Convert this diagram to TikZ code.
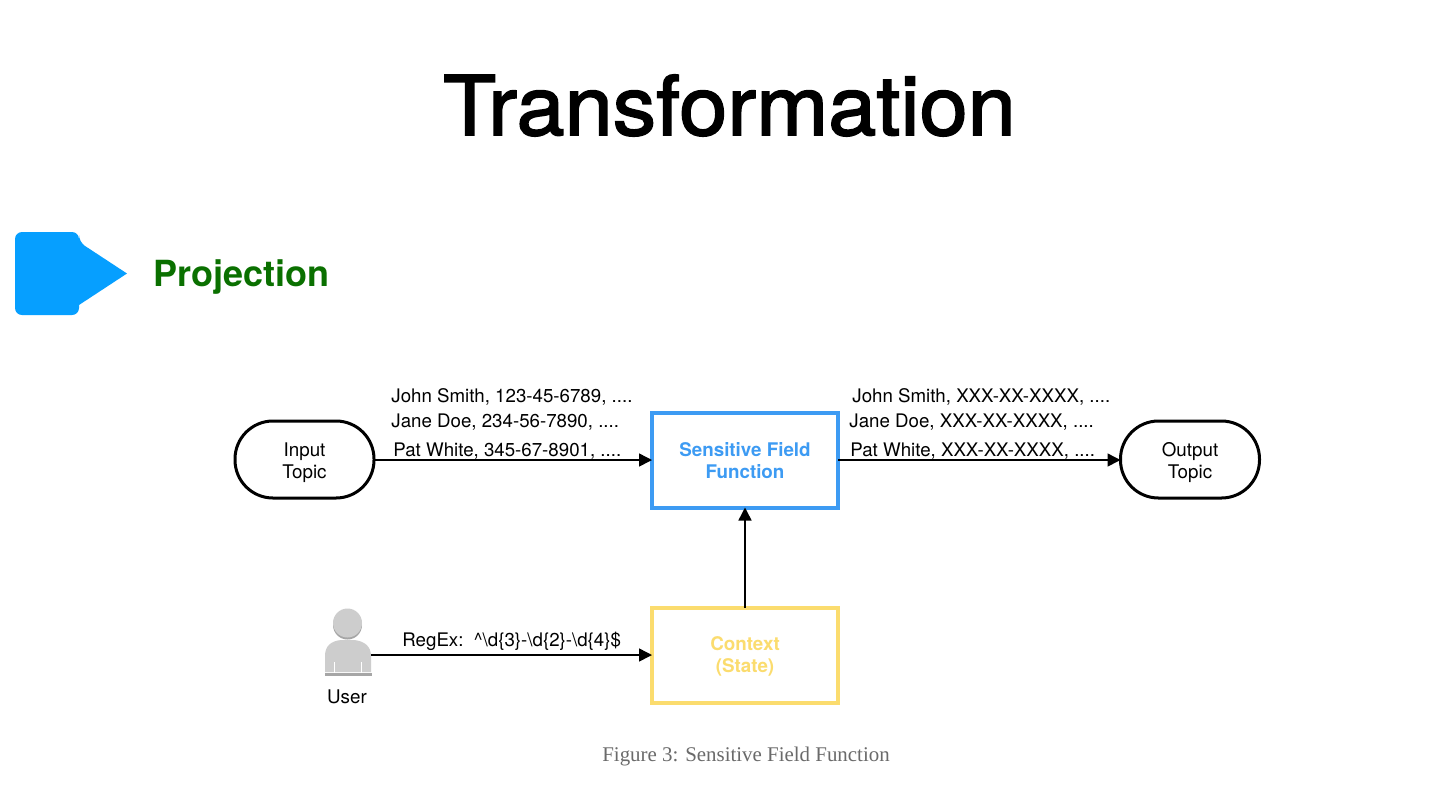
\documentclass[tikz,border=0pt]{standalone}
\usepackage{fontspec}
\setmainfont{TeX Gyre Heros}
\newfontfamily\capfont{Liberation Serif}
\newfontfamily\titlefont[FakeBold=2,FakeStretch=1.05]{TeX Gyre Heros}
\usetikzlibrary{arrows.meta,calc}
\definecolor{bluefn}{HTML}{3D9BF3}
\definecolor{yellowfn}{HTML}{FBDC6E}
\definecolor{greenp}{HTML}{0A7000}
\definecolor{bluep}{HTML}{069FFF}
\definecolor{usergray}{HTML}{CDCDCD}
\definecolor{usershade}{HTML}{A6A6A6}
\definecolor{capgray}{HTML}{6A6A6A}
\newcommand\lowr[1]{\rule{0pt}{#1}}
\tikzset{
  x=0.5pt,y=-0.5pt,
  topic/.style={draw=black,line width=1.5pt,outer sep=0pt,rounded corners=19pt,minimum width=69.5pt,minimum height=38.5pt,inner sep=0pt,align=center,font=\fontsize{9.4}{11}\selectfont},
  fnbox/.style={line width=2pt,outer sep=0pt,minimum width=93pt,minimum height=47.5pt,inner sep=0pt,align=center,font=\fontsize{9.4}{11}\bfseries\selectfont},
  lbl/.style={inner sep=0pt,font=\fontsize{9.35}{11}\selectfont,anchor=base west},
  conn/.style={draw=black,line width=0.75pt,-{Triangle[length=6.5pt,width=6.5pt]}},
}
\begin{document}
\begin{tikzpicture}
\useasboundingbox (0,0) rectangle (1440,810);
\fill[white] (0,0) rectangle (1440,810);
\node[inner sep=0pt,anchor=base,font=\titlefont\fontsize{41.2}{50}\selectfont] (title) at (729.5,135) {Transformation};
% bullet
\fill[bluep,rounded corners=3.5pt] (15,232) -- (79,232) -- (79,242) [sharp corners] -- (127,273.5) -- (79,305) [rounded corners=3.5pt] -- (79,315) -- (15,315) -- cycle;
\node[lbl,font=\fontsize{18}{22}\bfseries\selectfont,text=greenp] (proj) at (153.5,286) {Projection};
% nodes
\node[topic] (input) at (304.5,459.5) {\lowr{9.6pt}Input\\Topic};
\node[topic] (output) at (1190,459.5) {\lowr{9.6pt}Output\\Topic};
\node[fnbox,draw=bluefn,text=bluefn] (sens) at (745,460) {\lowr{8pt}Sensitive Field\\Function};
\node[fnbox,draw=yellowfn,text=yellowfn] (ctx) at (745,655) {\lowr{8.6pt}Context\\(State)};
% user
\fill[usergray] (325,672) -- (325,656) .. controls (325,646) and (331,641) .. (341,640) -- (354,640) .. controls (364,641) and (371,646) .. (371,656) -- (371,672) -- cycle;
\fill[usershade] (347.5,625) circle[radius=14.5];
\fill[usergray] (347.5,623) circle[radius=14.5];
\fill[white] (334,662) rectangle (335,673);
\fill[white] (361,662) rectangle (362,673);
\fill[usershade] (324.5,673) rectangle (371.5,676);
\node[inner sep=0pt,anchor=base,font=\fontsize{9.4}{11}\selectfont] (userlbl) at (347,703.5) {User};
\coordinate (userout) at (371,655);
% connectors
\draw[conn] (input.east |- sens.west) -- (sens.west);
\draw[conn] (sens.east) -- (output.west |- sens.east);
\draw[conn] (ctx.north) -- (sens.south);
\draw[conn] (userout) -- (ctx.west);
% labels
\node[lbl] (l1) at (391,402.5) {John Smith, 123-45-6789, ....};
\node[lbl] (l2) at (391,427.5) {Jane Doe, 234-56-7890, ....};
\node[lbl] (l3) at (393,456) {Pat White, 345-67-8901, ....};
\node[lbl] (r1) at (852,402.5) {John Smith, XXX-XX-XXXX, ....};
\node[lbl] (r2) at (849,427.5) {Jane Doe, XXX-XX-XXXX, ....};
\node[lbl] (r3) at (850,456) {Pat White, XXX-XX-XXXX, ....};
\node[lbl] (re) at (402,646) {RegEx:\ \ \textasciicircum\textbackslash d\{3\}-\textbackslash d\{2\}-\textbackslash d\{4\}\$};
\node[inner sep=0pt,anchor=base,font=\capfont\fontsize{10.45}{13}\selectfont,text=capgray] (cap) at (746,761) {Figure 3: Sensitive Field Function};
\end{tikzpicture}
\end{document}
